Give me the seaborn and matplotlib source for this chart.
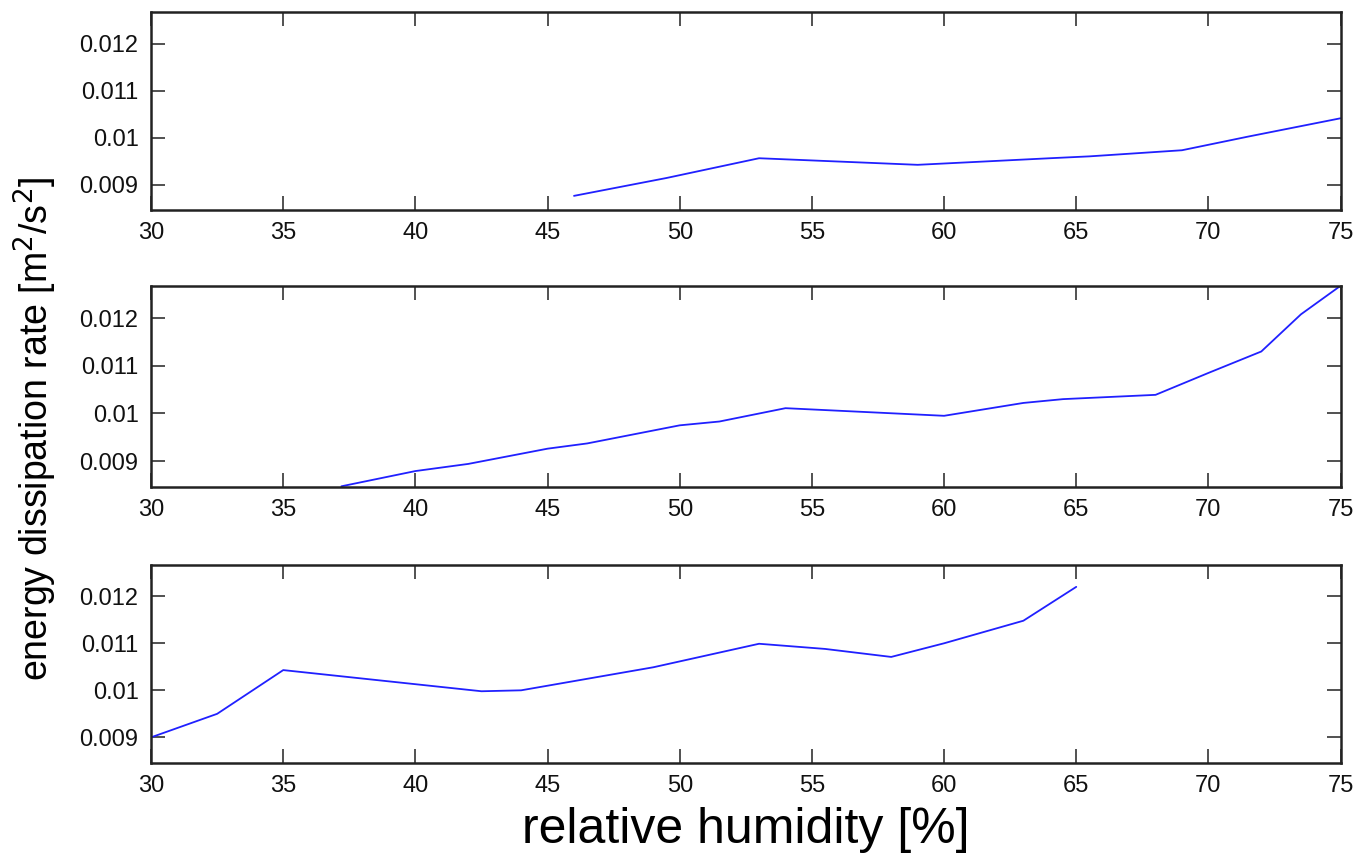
import numpy as np
import pandas as pd
import seaborn as sns
import matplotlib
matplotlib.use("Agg")
import matplotlib.pyplot as plt
from matplotlib.ticker import FuncFormatter

# humidity [%] and dissipation rate, one pair per panel
top_rh = [46, 49.5, 53, 59, 64, 65.5, 69, 71.5, 75]
top_eps = [0.00876, 0.00914, 0.00956, 0.00942, 0.00956, 0.00960, 0.00973, 0.01002, 0.01041]

mid_rh = [37.2, 40, 42, 45, 46.5, 50, 51.5, 54, 60, 63, 64.5, 68, 70, 72, 73.5, 75]
mid_eps = [0.00847, 0.00879, 0.00894, 0.00926, 0.00937, 0.00975, 0.00983, 0.01011,
           0.00995, 0.01022, 0.01030, 0.01039, 0.01085, 0.01130, 0.01208, 0.01268]

bot_rh = [30, 32.5, 35, 42.5, 44, 49, 53, 55.5, 58, 60, 63, 65]
bot_eps = [0.00900, 0.00950, 0.01043, 0.00998, 0.01000, 0.01049, 0.01099, 0.01088,
           0.01071, 0.01100, 0.01148, 0.01220]

xticks = [30, 35, 40, 45, 50, 55, 60, 65, 70, 75]
yticks = [0.009, 0.01, 0.011, 0.012]

sns.set_style("ticks")
plt.rcParams['font.family'] = ['Liberation Sans', 'DejaVu Sans']

fig = plt.figure(figsize=(13.61, 8.57), dpi=100)
boxes = [
    [0.111, 0.755, 0.874, 0.231],
    [0.111, 0.432, 0.874, 0.234],
    [0.111, 0.110, 0.874, 0.231],
]
panels = [(top_rh, top_eps), (mid_rh, mid_eps), (bot_rh, bot_eps)]

for box, (rh, eps) in zip(boxes, panels):
    ax = fig.add_axes(box)
    df = pd.DataFrame({"rh": rh, "eps": eps})
    sns.lineplot(data=df, x="rh", y="eps", ax=ax, color="#2020ff", linewidth=1.3)
    ax.set_xlim(30, 75)
    ax.set_ylim(0.00846, 0.01267)
    ax.set_xticks(xticks)
    ax.set_yticks(yticks)
    ax.yaxis.set_major_formatter(FuncFormatter(lambda v, p: f"{v:g}"))
    ax.tick_params(direction="in", length=10, width=1.2, top=True, right=True,
                   labelsize=17, colors="#333333", labelcolor="#111111", pad=9)
    for s in ax.spines.values():
        s.set_linewidth(1.8)
        s.set_color("#222222")
    ax.set_xlabel("")
    ax.set_ylabel("")

fig.text(0.026, 0.5, "energy dissipation rate [m$^2$/s$^2$]", rotation=90,
         ha="center", va="center", fontsize=27, color="black")
fig.text(0.548, 0.032, "relative humidity [%]", ha="center", va="center",
         fontsize=36, color="black")

fig.savefig("out.png", dpi=100)
